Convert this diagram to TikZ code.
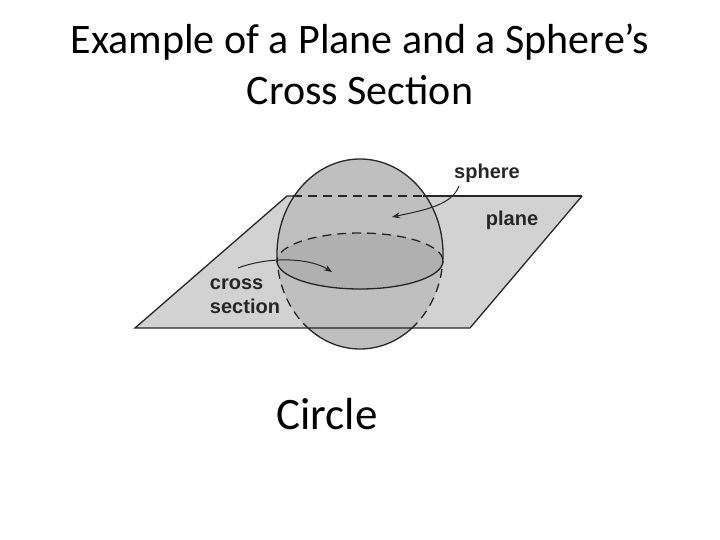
\documentclass[tikz,border=0pt]{standalone}
\usepackage{fontspec}
\usetikzlibrary{arrows.meta}
\setmainfont{Carlito}
\newfontfamily\lblfont{Liberation Sans}
\begin{document}
\begin{tikzpicture}[x=1pt,y=-1pt,
  lbl/.style={font=\lblfont\bfseries\fontsize{20}{24}\selectfont, text=black!85, align=left, inner sep=0pt},
  edge/.style={line width=1.3pt, black!85},
  arr/.style={line width=1pt, black!85, -{Stealth[length=8pt,width=6pt]}}]
\useasboundingbox (0,0) rectangle (720,540);
\node[font=\fontsize{42}{51}\selectfont, align=center] (title) at (360,64) {Example of a Plane and a Sphere’s\\Cross Section};
% plane
\coordinate (p1) at (287,196); \coordinate (p2) at (582,196);
\coordinate (p3) at (470,328); \coordinate (p4) at (135,328);
\fill[gray!35] (p1) -- (p2) -- (p3) -- (p4) -- cycle;
% sphere
\fill[gray!50] (360,254) ellipse [x radius=83, y radius=95];
\fill[gray!62] (360,261) ellipse [x radius=83, y radius=28];
% plane outline
\draw[edge] (p2) -- (p3) -- (p4) -- (p1) -- (293,196);
\draw[edge] (423,196) -- (p2);
\draw[edge, dash pattern=on 9pt off 6pt] (293,196) -- (423,196);
% sphere outline
\begin{scope}\clip (200,100) rectangle (520,261);
\draw[edge] (360,254) ellipse [x radius=83, y radius=95];
\draw[edge, dash pattern=on 9pt off 6pt] (360,261) ellipse [x radius=83, y radius=28];
\end{scope}
\begin{scope}\clip (200,261) rectangle (520,328);
\draw[edge, dash pattern=on 9pt off 6pt] (360,254) ellipse [x radius=83, y radius=95];
\draw[edge] (360,261) ellipse [x radius=83, y radius=28];
\end{scope}
\begin{scope}\clip (200,328) rectangle (520,400);
\draw[edge] (360,254) ellipse [x radius=83, y radius=95];
\end{scope}
% labels
\node[lbl] (sph) at (487,173) {sphere};
\node[lbl] (pl) at (512,220) {plane};
\node[lbl] (cs) at (245,296) {cross\\section};
\coordinate (sa) at (392,217);
\coordinate (ca) at (332,272);
\draw[arr] (459,186) .. controls (452,205) and (425,210) .. (sa);
\draw[arr] (238,268) .. controls (270,256) and (310,258) .. (ca);
\node[font=\fontsize{45}{50}\selectfont] (circ) at (327,414) {Circle};
\end{tikzpicture}
\end{document}
